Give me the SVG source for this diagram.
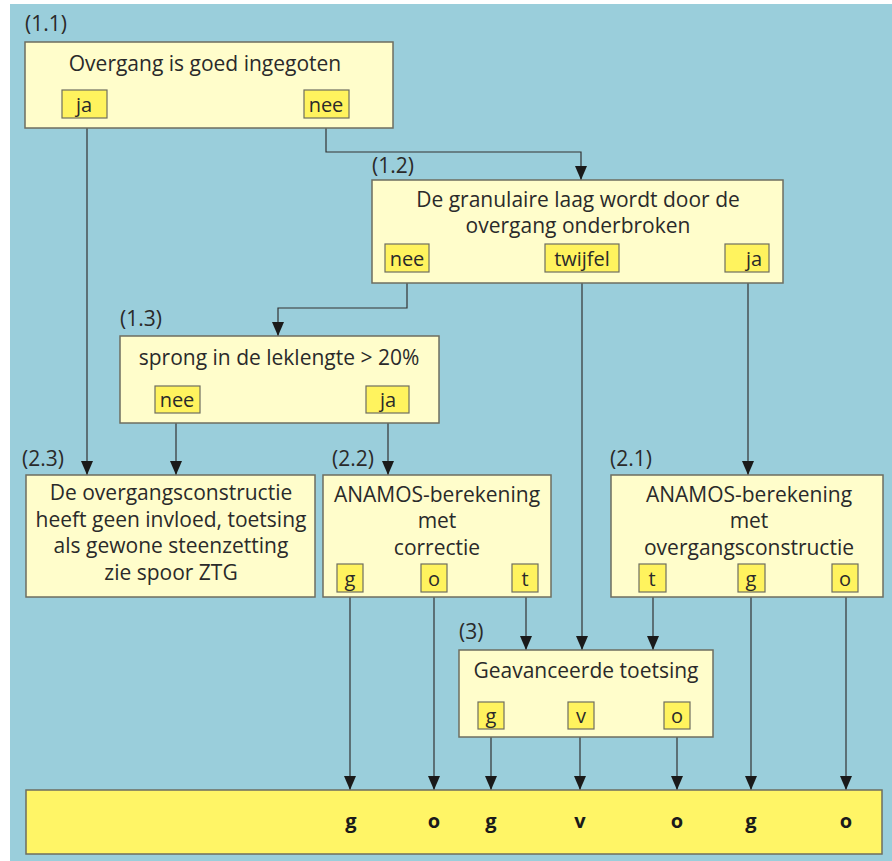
<svg xmlns="http://www.w3.org/2000/svg" width="892" height="861" viewBox="0 0 892 861">
<defs>
<marker id="ah" viewBox="0 0 14 12" refX="14" refY="6" markerWidth="14" markerHeight="12" markerUnits="userSpaceOnUse" orient="auto">
<path d="M0,0 L14,6 L0,12 z" fill="#1a1a1a"/>
</marker>
</defs>
<style>
.box{fill:#FFFDCB;stroke:#6E6E60;stroke-width:1.5}
.tag{fill:#FFF35E;stroke:#6E6E60;stroke-width:1.2}
.strip{fill:#FFF566;stroke:#6E6E60;stroke-width:1.5}
.t{font-family:"Open Sans","Liberation Sans",sans-serif;font-size:21px;fill:#2a2a2a;text-anchor:middle}
.tg{font-family:"Open Sans","Liberation Sans",sans-serif;font-size:20px;fill:#2a2a2a;text-anchor:middle}
.lb{font-family:"Open Sans","Liberation Sans",sans-serif;font-size:21px;fill:#2a2a2a}
.b{font-family:"Open Sans","Liberation Sans",sans-serif;font-size:20px;font-weight:bold;fill:#1a1a1a;text-anchor:middle}
.c{fill:none;stroke:#333333;stroke-width:1.2;marker-end:url(#ah)}
</style>
<rect x="0" y="0" width="892" height="861" fill="#ffffff"/>
<rect x="10" y="4" width="882" height="857" fill="#9ACEDB"/>

<g id="connectors">
<path class="c" d="M87 128 V475"/>
<path class="c" d="M326 128 V152 H581 V180"/>
<path class="c" d="M407 283 V308 H278 V336"/>
<path class="c" d="M582 283 V650"/>
<path class="c" d="M748 283 V475"/>
<path class="c" d="M176 423 V475"/>
<path class="c" d="M388 423 V475"/>
<path class="c" d="M350 597 V790"/>
<path class="c" d="M434 597 V790"/>
<path class="c" d="M526 597 V650"/>
<path class="c" d="M653 597 V650"/>
<path class="c" d="M751 597 V790"/>
<path class="c" d="M846 597 V790"/>
<path class="c" d="M491 737 V790"/>
<path class="c" d="M580 737 V790"/>
<path class="c" d="M677 737 V790"/>
</g>

<g id="n11">
<text class="lb" x="25" y="31">(1.1)</text>
<rect class="box" x="25" y="42" width="368" height="86"/>
<text class="t" x="205" y="71">Overgang is goed ingegoten</text>
<rect class="tag" x="62" y="90" width="45" height="28"/>
<text class="tg" x="84" y="112">ja</text>
<rect class="tag" x="304" y="90" width="45" height="28"/>
<text class="tg" x="326" y="112">nee</text>
</g>

<g id="n12">
<text class="lb" x="372" y="173">(1.2)</text>
<rect class="box" x="372" y="180" width="411" height="103"/>
<text class="t" x="578" y="207">De granulaire laag wordt door de</text>
<text class="t" x="578" y="233">overgang onderbroken</text>
<rect class="tag" x="385" y="244" width="44" height="28"/>
<text class="tg" x="407" y="266">nee</text>
<rect class="tag" x="545" y="244" width="74" height="28"/>
<text class="tg" x="582" y="266">twijfel</text>
<rect class="tag" x="725" y="244" width="44" height="28"/>
<text class="tg" x="754" y="266">ja</text>
</g>

<g id="n13">
<text class="lb" x="120" y="326">(1.3)</text>
<rect class="box" x="120" y="336" width="319" height="87"/>
<text class="t" x="279" y="365">sprong in de leklengte &gt; 20%</text>
<rect class="tag" x="155" y="386" width="45" height="27"/>
<text class="tg" x="177" y="407">nee</text>
<rect class="tag" x="366" y="386" width="43" height="27"/>
<text class="tg" x="388" y="407">ja</text>
</g>

<g id="n23">
<text class="lb" x="22" y="466">(2.3)</text>
<rect class="box" x="26" y="475" width="289" height="122"/>
<text class="t" x="171" y="500">De overgangsconstructie</text>
<text class="t" x="171" y="527">heeft geen invloed, toetsing</text>
<text class="t" x="171" y="553">als gewone steenzetting</text>
<text class="t" x="171" y="580">zie spoor ZTG</text>
</g>

<g id="n22">
<text class="lb" x="332" y="466">(2.2)</text>
<rect class="box" x="323" y="475" width="228" height="122"/>
<text class="t" x="437" y="502">ANAMOS-berekening</text>
<text class="t" x="437" y="528">met</text>
<text class="t" x="437" y="555">correctie</text>
<rect class="tag" x="337" y="564" width="26" height="28"/>
<text class="tg" x="350" y="586">g</text>
<rect class="tag" x="421" y="564" width="26" height="28"/>
<text class="tg" x="434" y="586">o</text>
<rect class="tag" x="512" y="564" width="26" height="28"/>
<text class="tg" x="525" y="586">t</text>
</g>

<g id="n21">
<text class="lb" x="610" y="466">(2.1)</text>
<rect class="box" x="611" y="475" width="272" height="122"/>
<text class="t" x="749" y="502">ANAMOS-berekening</text>
<text class="t" x="749" y="528">met</text>
<text class="t" x="749" y="555">overgangsconstructie</text>
<rect class="tag" x="639" y="564" width="27" height="28"/>
<text class="tg" x="652" y="586">t</text>
<rect class="tag" x="738" y="564" width="27" height="28"/>
<text class="tg" x="751" y="586">g</text>
<rect class="tag" x="832" y="564" width="26" height="28"/>
<text class="tg" x="845" y="586">o</text>
</g>

<g id="n3">
<text class="lb" x="459" y="639">(3)</text>
<rect class="box" x="459" y="650" width="254" height="87"/>
<text class="t" x="586" y="678">Geavanceerde toetsing</text>
<rect class="tag" x="478" y="702" width="26" height="27"/>
<text class="tg" x="491" y="723">g</text>
<rect class="tag" x="568" y="702" width="26" height="27"/>
<text class="tg" x="581" y="723">v</text>
<rect class="tag" x="664" y="702" width="26" height="27"/>
<text class="tg" x="677" y="723">o</text>
</g>

<g id="result">
<rect class="strip" x="26" y="790" width="856" height="64"/>
<text class="b" x="351" y="828">g</text>
<text class="b" x="434" y="828">o</text>
<text class="b" x="491" y="828">g</text>
<text class="b" x="580" y="828">v</text>
<text class="b" x="677" y="828">o</text>
<text class="b" x="751" y="828">g</text>
<text class="b" x="846" y="828">o</text>
</g>
</svg>
